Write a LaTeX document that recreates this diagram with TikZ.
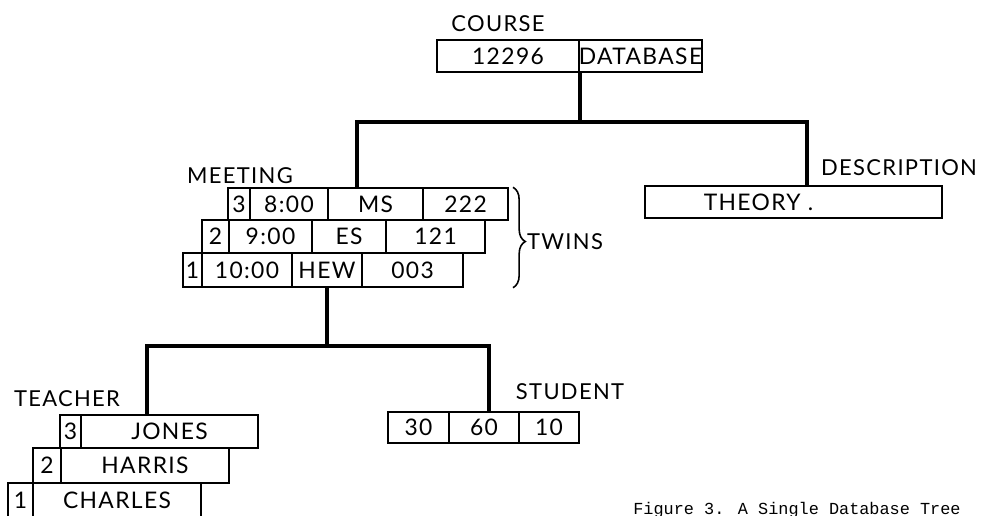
\documentclass[tikz,border=0pt]{standalone}
\usepackage{fontspec}
\usepackage{tikz}
\usetikzlibrary{fit,calc,decorations.pathreplacing}
\newfontfamily\hand[LetterSpace=6]{Lato}
\newfontfamily\typew{Liberation Mono}
\tikzset{
  cell/.style={draw, line width=0.8pt, inner sep=0pt},
  every label/.style={inner sep=0pt, font=\hand\fontsize{13}{15}\selectfont},
  tag/.style={inner sep=0pt, font=\hand\fontsize{12.5}{15}\selectfont},
  link/.style={line width=2.3pt},
  twinbrace/.style={decorate, decoration={brace, amplitude=7pt, aspect=0.54}, line width=0.9pt}
}

\begin{document}
\begin{tikzpicture}[x=0.02cm, y=-0.02cm]
  \useasboundingbox (0,0) rectangle (1000,515);

  % course root
  \node[tag] (lcourse) at (498,24) {COURSE};
  \node[cell, fit={(437,40) (579,72)}, label={center:{12296}}] (c1) {};
  \node[cell, fit={(579,40) (702,72)}, label={center:{DATABASE}}] (c2) {};

  % description
  \node[tag] (ldesc) at (899,168) {DESCRIPTION};
  \node[cell, fit={(645,186) (942,218)}, label={center:{THEORY~.\hspace*{1.4cm}}}] (d) {};

  % meeting twins
  \node[tag] (lmeet) at (240,176) {MEETING};
  \node[cell, fit={(228,188) (250,220)}, label={center:{3}}] (m3a) {};
  \node[cell, fit={(250,188) (328,220)}, label={center:{8:00}}] (m3b) {};
  \node[cell, fit={(328,188) (423,220)}, label={center:{MS}}] (m3c) {};
  \node[cell, fit={(423,188) (508,220)}, label={center:{222}}] (m3d) {};
  \node[cell, fit={(202,220) (229,253)}, label={center:{2}}] (m2a) {};
  \node[cell, fit={(229,220) (312,253)}, label={center:{9:00}}] (m2b) {};
  \node[cell, fit={(312,220) (386,253)}, label={center:{ES}}] (m2c) {};
  \node[cell, fit={(386,220) (485,253)}, label={center:{121}}] (m2d) {};
  \node[cell, fit={(183,253) (202,287)}, label={center:{1}}] (m1a) {};
  \node[cell, fit={(202,253) (292,287)}, label={center:{10:00}}] (m1b) {};
  \node[cell, fit={(292,253) (362,287)}, label={center:{HEW}}] (m1c) {};
  \node[cell, fit={(362,253) (463,287)}, label={center:{003}}] (m1d) {};
  \draw[twinbrace] (m3d.north east -| 513,0) -- (m1d.south east -| 513,0);
  \node[tag] (ltwins) at (565,242) {TWINS};

  % teacher twins
  \node[tag] (lteach) at (67,399) {TEACHER};
  \node[cell, fit={(60,415) (81,448)}, label={center:{3}}] (t3a) {};
  \node[cell, fit={(81,415) (258,448)}, label={center:{JONES}}] (t3b) {};
  \node[cell, fit={(33,448) (61,483)}, label={center:{2}}] (t2a) {};
  \node[cell, fit={(61,448) (229,483)}, label={center:{HARRIS}}] (t2b) {};
  \node[cell, fit={(8,483) (33,518)}, label={center:{1}}] (t1a) {};
  \node[cell, fit={(33,483) (201,518)}, label={center:{CHARLES}}] (t1b) {};

  % student
  \node[tag] (lstud) at (570,392) {STUDENT};
  \node[cell, fit={(388,412) (449,443)}, label={center:{30}}] (s1) {};
  \node[cell, fit={(449,412) (519,443)}, label={center:{60}}] (s2) {};
  \node[cell, fit={(519,412) (579,443)}, label={center:{10}}] (s3) {};

  % tree links
  \draw[link] (c1.south east) -- (c1.south east |- 0,122) coordinate (hub);
  \draw[link] (m3c.north -| 357,0) |- (hub) -| (d.north -| 807,0);
  \draw[link] (m1c.south) -- (m1c.south |- 0,346) coordinate (hub2);
  \draw[link] (t3b.north -| 147,0) |- (hub2) -| (s2.north -| 489,0);

  \node[anchor=base west, inner sep=0pt, font=\typew\fontsize{9.6}{12}\selectfont] (cap) at (633,514) {Figure 3. A Single Database Tree};
\end{tikzpicture}
\end{document}
